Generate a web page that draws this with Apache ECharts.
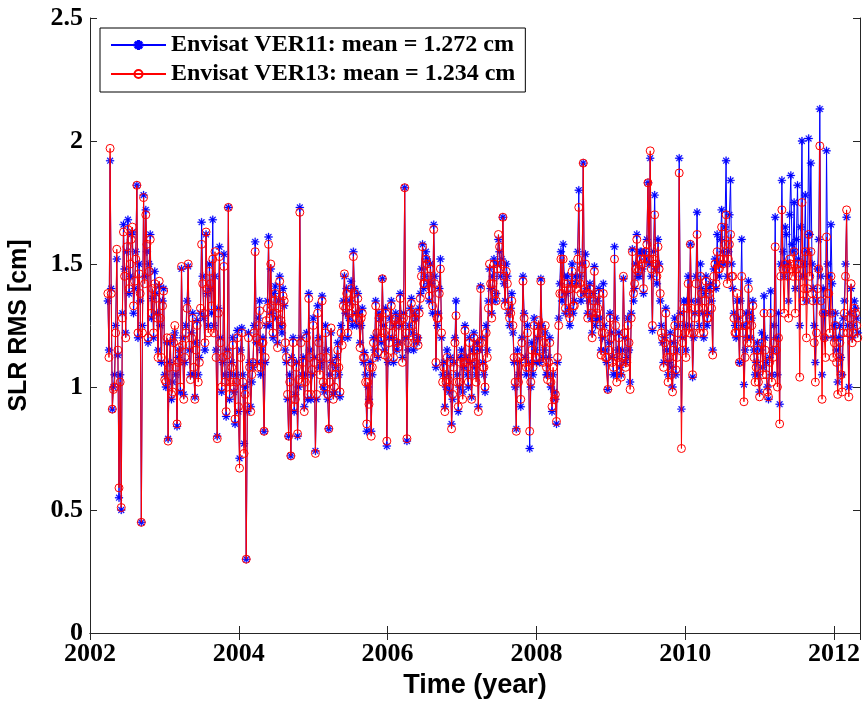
<!DOCTYPE html>
<html>
<head>
<meta charset="utf-8">
<script src="https://cdn.jsdelivr.net/npm/echarts@6/dist/echarts.min.js"></script>
<style>
html,body{margin:0;padding:0;background:#fff;}
#chart{width:863px;height:702px;}
</style>
</head>
<body>
<div id="chart"></div>
<script>
// main samples
const dates = [
2002.24,2002.27,2002.30,2002.33,2002.36,2002.39,2002.42,2002.45,2002.48,2002.51,
2002.54,2002.57,2002.60,2002.63,2002.66,2002.69,2002.72,2002.75,2002.78,2002.81,
2002.84,2002.87,2002.90,2002.93,2002.96,2002.99,2003.02,2003.05,2003.08,2003.11,
2003.14,2003.17,2003.20,2003.23,2003.26,2003.29,2003.32,2003.35,2003.38,2003.41,
2003.44,2003.47,2003.50,2003.53,2003.56,2003.59,2003.62,2003.65,2003.68,2003.71,
2003.74,2003.77,2003.80,2003.83,2003.86,2003.89,2003.92,2003.95,2003.98,2004.01,
2004.04,2004.07,2004.10,2004.13,2004.16,2004.19,2004.22,2004.25,2004.28,2004.31,
2004.34,2004.37,2004.40,2004.43,2004.46,2004.49,2004.52,2004.55,2004.58,2004.61,
2004.64,2004.67,2004.70,2004.73,2004.76,2004.79,2004.82,2004.85,2004.88,2004.91,
2004.94,2004.97,2005.00,2005.03,2005.06,2005.09,2005.12,2005.15,2005.18,2005.21,
2005.24,2005.27,2005.30,2005.33,2005.36,2005.39,2005.42,2005.45,2005.48,2005.51,
2005.54,2005.57,2005.60,2005.63,2005.66,2005.69,2005.72,2005.75,2005.78,2005.81,
2005.84,2005.87,2005.90,2005.93,2005.96,2005.99,2006.02,2006.05,2006.08,2006.11,
2006.14,2006.17,2006.20,2006.23,2006.26,2006.29,2006.32,2006.35,2006.38,2006.41,
2006.44,2006.47,2006.50,2006.53,2006.56,2006.59,2006.62,2006.65,2006.68,2006.71,
2006.74,2006.77,2006.80,2006.83,2006.86,2006.89,2006.92,2006.95,2006.98,2007.01,
2007.04,2007.07,2007.10,2007.13,2007.16,2007.19,2007.22,2007.25,2007.28,2007.31,
2007.34,2007.37,2007.40,2007.43,2007.46,2007.49,2007.52,2007.55,2007.58,2007.61,
2007.64,2007.67,2007.70,2007.73,2007.76,2007.79,2007.82,2007.85,2007.88,2007.91,
2007.94,2007.97,2008.00,2008.03,2008.06,2008.09,2008.12,2008.15,2008.18,2008.21,
2008.24,2008.27,2008.30,2008.33,2008.36,2008.39,2008.42,2008.45,2008.48,2008.51,
2008.54,2008.57,2008.60,2008.63,2008.66,2008.69,2008.72,2008.75,2008.78,2008.81,
2008.84,2008.87,2008.90,2008.93,2008.96,2008.99,2009.02,2009.05,2009.08,2009.11,
2009.14,2009.17,2009.20,2009.23,2009.26,2009.29,2009.32,2009.35,2009.38,2009.41,
2009.44,2009.47,2009.50,2009.53,2009.56,2009.59,2009.62,2009.65,2009.68,2009.71,
2009.74,2009.77,2009.80,2009.83,2009.86,2009.89,2009.92,2009.95,2009.98,2010.01,
2010.04,2010.07,2010.10,2010.13,2010.16,2010.19,2010.22,2010.25,2010.28,2010.31,
2010.34,2010.37,2010.40,2010.43,2010.46,2010.49,2010.52,2010.55,2010.58,2010.61,
2010.64,2010.67,2010.70,2010.73,2010.76,2010.79,2010.82,2010.85,2010.88,2010.91,
2010.94,2010.97,2011.00,2011.03,2011.06,2011.09,2011.12,2011.15,2011.18,2011.21,
2011.24,2011.27,2011.30,2011.33,2011.36,2011.39,2011.42,2011.45,2011.48,2011.51,
2011.54,2011.57,2011.60,2011.63,2011.66,2011.69,2011.72,2011.75,2011.78,2011.81,
2011.84,2011.87,2011.90,2011.93,2011.96,2011.99,2012.02,2012.05,2012.08,2012.11,
2012.14,2012.17,2012.20,2012.23,2012.26,2012.29,2012.32
];

const ver11 = [
1.35,1.92,0.91,1.05,1.52,0.55,0.50,1.66,1.22,1.68,
1.45,1.63,1.40,1.82,1.50,0.45,1.78,1.72,1.18,1.62,
1.36,1.47,1.30,1.41,1.10,1.40,1.00,0.79,1.18,1.02,
1.22,0.84,1.15,1.48,0.97,1.25,1.49,1.05,1.30,0.96,
1.27,1.12,1.67,1.28,1.62,1.25,1.40,1.68,1.45,0.80,
1.57,0.98,1.54,0.88,1.73,1.05,1.20,0.85,1.23,0.71,
1.24,0.77,0.30,1.22,0.92,1.08,1.59,1.10,1.35,1.15,
0.82,1.25,1.61,1.48,1.20,1.41,1.18,1.45,1.22,1.33,
1.10,0.80,0.72,1.20,0.97,0.80,1.73,1.05,0.92,1.22,
1.38,0.95,1.28,0.74,1.33,1.08,1.37,0.98,1.15,0.83,
1.22,0.97,1.08,1.18,0.96,1.20,1.45,1.40,1.28,1.43,
1.55,1.30,1.38,1.18,1.32,1.14,0.82,0.95,0.82,1.20,
1.35,1.12,1.28,1.44,1.15,0.76,1.20,1.35,1.10,1.30,
1.18,1.38,1.12,1.81,0.78,1.25,1.36,1.15,1.28,1.20,
1.38,1.58,1.45,1.52,1.35,1.42,1.66,1.08,1.30,1.52,
1.05,0.92,1.15,0.98,0.85,1.10,1.35,0.90,1.12,0.98,
1.25,1.05,1.20,0.96,1.22,1.05,0.92,1.41,1.10,0.98,
1.15,1.48,1.30,1.52,1.38,1.60,1.45,1.69,1.35,1.45,
1.25,1.38,1.10,0.83,1.05,0.92,1.45,1.12,1.25,0.75,
1.18,1.28,1.10,1.25,1.44,1.12,1.22,1.05,1.20,0.90,
0.98,0.85,1.28,1.55,1.58,1.30,1.45,1.25,1.50,1.35,
1.42,1.80,1.35,1.91,1.54,1.30,1.42,1.22,1.49,1.28,
1.40,1.15,1.42,1.15,0.99,1.30,1.12,1.57,1.05,1.22,
1.05,1.44,1.10,1.28,1.02,1.56,1.40,1.62,1.45,1.55,
1.38,1.52,1.83,1.93,1.23,1.78,1.42,1.50,1.25,1.10,
1.32,1.05,1.22,1.00,1.28,1.15,1.93,0.91,1.35,1.15,
1.45,1.58,1.04,1.30,1.71,1.25,1.40,1.20,1.45,1.30,
1.42,1.15,1.52,1.62,1.45,1.72,1.50,1.92,1.55,1.84,
1.40,1.25,1.35,1.10,1.60,1.01,1.30,1.43,1.20,1.35,
1.05,1.18,0.98,1.22,1.37,1.10,0.95,1.39,1.15,1.69,
1.05,0.93,1.84,1.45,1.62,1.35,1.86,1.55,1.40,1.82,
1.25,2.00,1.50,1.35,2.01,1.91,1.40,1.10,1.48,2.13,
1.05,1.30,1.96,1.45,1.66,1.20,1.30,1.02,1.25,1.05,
1.35,1.69,1.00,1.40,1.25,1.32,1.22
];

const ver13 = [
1.38,1.97,0.91,1.00,1.56,0.59,0.51,1.63,1.20,1.64,
1.50,1.65,1.43,1.82,1.46,0.45,1.77,1.70,1.20,1.60,
1.40,1.42,1.28,1.43,1.12,1.39,1.02,0.78,1.20,0.98,
1.25,0.85,1.16,1.49,0.95,1.22,1.50,1.03,1.28,0.95,
1.25,1.10,1.58,1.30,1.63,1.22,1.42,1.52,1.55,0.79,
1.53,1.00,1.49,0.90,1.73,1.02,1.17,0.87,1.20,0.67,
1.22,0.73,0.30,1.20,0.90,1.10,1.55,1.08,1.31,1.18,
0.82,1.27,1.58,1.50,1.22,1.38,1.16,1.43,1.25,1.35,
1.12,0.80,0.72,1.18,0.95,0.81,1.71,1.02,0.90,1.20,
1.36,0.97,1.25,0.73,1.30,1.05,1.35,1.00,1.12,0.83,
1.24,0.95,1.05,1.15,0.98,1.17,1.46,1.38,1.30,1.40,
1.53,1.32,1.36,1.16,1.30,1.12,0.85,0.93,0.80,1.18,
1.33,1.14,1.30,1.44,1.13,0.78,1.18,1.33,1.12,1.28,
1.16,1.36,1.10,1.81,0.79,1.22,1.34,1.18,1.30,1.17,
1.36,1.57,1.42,1.50,1.37,1.40,1.64,1.10,1.28,1.48,
1.02,0.90,1.12,1.00,0.83,1.08,1.29,0.92,1.10,0.95,
1.23,1.08,1.18,0.95,1.20,1.02,0.90,1.40,1.08,1.00,
1.12,1.50,1.28,1.50,1.35,1.62,1.48,1.69,1.33,1.42,
1.28,1.35,1.12,0.82,1.02,0.95,1.43,1.10,1.22,0.82,
1.15,1.25,1.12,1.27,1.43,1.10,1.25,1.03,1.18,0.92,
0.95,0.86,1.25,1.52,1.52,1.32,1.42,1.28,1.47,1.33,
1.40,1.73,1.38,1.91,1.50,1.28,1.40,1.20,1.47,1.30,
1.38,1.13,1.38,1.12,0.99,1.28,1.10,1.52,1.02,1.20,
1.04,1.45,1.08,1.25,0.99,1.55,1.42,1.60,1.48,1.52,
1.40,1.55,1.83,1.96,1.25,1.70,1.45,1.48,1.22,1.08,
1.30,1.02,1.20,0.98,1.25,1.12,1.87,0.75,1.32,1.12,
1.42,1.58,1.05,1.28,1.62,1.22,1.38,1.22,1.43,1.28,
1.40,1.13,1.50,1.55,1.48,1.65,1.52,1.70,1.52,1.62,
1.45,1.22,1.38,1.10,1.45,0.94,1.25,1.40,1.18,1.33,
1.02,1.15,0.96,1.18,1.30,1.05,0.96,1.30,1.12,1.57,
1.00,0.85,1.72,1.30,1.48,1.28,1.50,1.45,1.30,1.50,
1.04,1.75,1.40,1.20,1.62,1.55,1.35,1.02,1.40,1.98,
0.95,1.20,1.61,1.38,1.45,1.12,1.25,0.97,1.18,0.98,
1.30,1.72,0.96,1.42,1.22,1.30,1.20
];

// in-between samples
const datesB = [
2002.255,2002.285,2002.315,2002.345,2002.375,2002.405,2002.435,2002.465,2002.495,2002.525,
2002.555,2002.585,2002.615,2002.645,2002.675,2002.705,2002.735,2002.765,2002.795,2002.825,
2002.855,2002.885,2002.915,2002.945,2002.975,2003.005,2003.035,2003.065,2003.095,2003.125,
2003.155,2003.185,2003.215,2003.245,2003.275,2003.305,2003.335,2003.365,2003.395,2003.425,
2003.455,2003.485,2003.515,2003.545,2003.575,2003.605,2003.635,2003.665,2003.695,2003.725,
2003.755,2003.785,2003.815,2003.845,2003.875,2003.905,2003.935,2003.965,2003.995,2004.025,
2004.055,2004.085,2004.115,2004.145,2004.175,2004.205,2004.235,2004.265,2004.295,2004.325,
2004.355,2004.385,2004.415,2004.445,2004.475,2004.505,2004.535,2004.565,2004.595,2004.625,
2004.655,2004.685,2004.715,2004.745,2004.775,2004.805,2004.835,2004.865,2004.895,2004.925,
2004.955,2004.985,2005.015,2005.045,2005.075,2005.105,2005.135,2005.165,2005.195,2005.225,
2005.255,2005.285,2005.315,2005.345,2005.375,2005.405,2005.435,2005.465,2005.495,2005.525,
2005.555,2005.585,2005.615,2005.645,2005.675,2005.705,2005.735,2005.765,2005.795,2005.825,
2005.855,2005.885,2005.915,2005.945,2005.975,2006.005,2006.035,2006.065,2006.095,2006.125,
2006.155,2006.185,2006.215,2006.245,2006.275,2006.305,2006.335,2006.365,2006.395,2006.425,
2006.455,2006.485,2006.515,2006.545,2006.575,2006.605,2006.635,2006.665,2006.695,2006.725,
2006.755,2006.785,2006.815,2006.845,2006.875,2006.905,2006.935,2006.965,2006.995,2007.025,
2007.055,2007.085,2007.115,2007.145,2007.175,2007.205,2007.235,2007.265,2007.295,2007.325,
2007.355,2007.385,2007.415,2007.445,2007.475,2007.505,2007.535,2007.565,2007.595,2007.625,
2007.655,2007.685,2007.715,2007.745,2007.775,2007.805,2007.835,2007.865,2007.895,2007.925,
2007.955,2007.985,2008.015,2008.045,2008.075,2008.105,2008.135,2008.165,2008.195,2008.225,
2008.255,2008.285,2008.315,2008.345,2008.375,2008.405,2008.435,2008.465,2008.495,2008.525,
2008.555,2008.585,2008.615,2008.645,2008.675,2008.705,2008.735,2008.765,2008.795,2008.825,
2008.855,2008.885,2008.915,2008.945,2008.975,2009.005,2009.035,2009.065,2009.095,2009.125,
2009.155,2009.185,2009.215,2009.245,2009.275,2009.305,2009.335,2009.365,2009.395,2009.425,
2009.455,2009.485,2009.515,2009.545,2009.575,2009.605,2009.635,2009.665,2009.695,2009.725,
2009.755,2009.785,2009.815,2009.845,2009.875,2009.905,2009.935,2009.965,2009.995,2010.025,
2010.055,2010.085,2010.115,2010.145,2010.175,2010.205,2010.235,2010.265,2010.295,2010.325,
2010.355,2010.385,2010.415,2010.445,2010.475,2010.505,2010.535,2010.565,2010.595,2010.625,
2010.655,2010.685,2010.715,2010.745,2010.775,2010.805,2010.835,2010.865,2010.895,2010.925,
2010.955,2010.985,2011.015,2011.045,2011.075,2011.105,2011.135,2011.165,2011.195,2011.225,
2011.255,2011.285,2011.315,2011.345,2011.375,2011.405,2011.435,2011.465,2011.495,2011.525,
2011.555,2011.585,2011.615,2011.645,2011.675,2011.705,2011.735,2011.765,2011.795,2011.825,
2011.855,2011.885,2011.915,2011.945,2011.975,2012.005,2012.035,2012.065,2012.095,2012.125,
2012.155,2012.185,2012.215,2012.245,2012.275,2012.305
];

const ver11B = [
1.15,1.40,1.00,1.25,1.13,1.05,1.30,1.48,1.55,1.38,
1.62,1.30,1.55,1.20,1.35,1.25,1.45,1.55,1.50,1.28,
1.20,1.38,1.15,1.25,1.35,1.05,1.18,1.10,0.95,1.20,
1.05,1.12,0.98,1.20,1.10,1.35,1.15,1.22,1.05,1.18,
1.05,1.30,1.45,1.15,1.38,1.50,1.30,1.25,1.15,1.32,
1.20,1.10,1.05,1.15,0.95,1.10,0.98,1.05,0.90,1.15,
1.05,1.00,0.90,1.10,1.02,1.25,1.18,1.28,1.05,1.20,
1.10,1.35,1.25,1.30,1.38,1.28,1.35,1.25,1.40,1.15,
0.95,1.05,1.12,0.90,1.10,1.00,1.20,1.12,1.05,0.95,
1.15,1.05,1.12,0.95,1.20,1.10,1.00,1.25,0.95,1.05,
1.10,0.98,1.12,1.05,1.25,1.35,1.30,1.20,1.35,1.25,
1.40,1.25,1.30,1.25,1.10,1.05,1.00,1.10,1.05,1.15,
1.20,1.30,1.18,1.25,1.32,1.10,1.28,1.20,1.25,1.15,
1.28,1.25,1.30,1.20,1.15,1.32,1.22,1.30,1.18,1.32,
1.48,1.40,1.55,1.42,1.50,1.30,1.45,1.25,1.40,1.20,
1.10,1.00,1.05,1.12,0.95,1.20,1.05,1.00,1.15,1.08,
1.12,1.00,1.10,1.15,1.08,1.18,1.15,1.20,1.05,1.25,
1.35,1.40,1.45,1.35,1.50,1.55,1.52,1.42,1.50,1.30,
1.32,1.22,1.00,1.15,1.10,1.20,1.30,1.05,1.10,1.00,
1.05,1.15,1.20,1.10,1.25,1.15,1.05,1.12,1.00,1.05,
0.95,1.10,1.42,1.35,1.45,1.38,1.32,1.42,1.30,1.45,
1.55,1.45,1.50,1.38,1.40,1.35,1.28,1.38,1.25,1.35,
1.28,1.20,1.25,1.10,1.18,1.22,1.05,1.28,1.15,1.08,
1.15,1.20,1.12,1.15,1.30,1.35,1.50,1.45,1.55,1.48,
1.55,1.60,1.50,1.45,1.55,1.48,1.60,1.35,1.18,1.20,
1.15,1.10,1.08,1.18,1.05,1.25,1.30,1.20,1.25,1.35,
1.25,1.35,1.20,1.45,1.35,1.50,1.30,1.38,1.25,1.40,
1.35,1.48,1.40,1.50,1.60,1.55,1.65,1.45,1.70,1.50,
1.30,1.20,1.28,1.35,1.25,1.15,1.20,1.30,1.28,1.15,
1.10,1.05,1.15,1.08,1.20,1.00,1.12,1.05,1.25,1.20,
1.30,1.50,1.55,1.65,1.50,1.70,1.58,1.75,1.60,1.52,
1.65,1.45,1.78,1.55,1.62,1.50,1.25,1.35,1.60,1.45,
1.40,1.20,1.50,1.30,1.42,1.25,1.15,1.20,1.12,1.28,
1.50,1.25,1.30,1.20,1.35,1.28
];

const ver13B = [
1.12,1.38,0.99,1.22,1.15,1.02,1.28,1.45,1.57,1.40,
1.60,1.33,1.52,1.22,1.38,1.22,1.42,1.58,1.47,1.30,
1.22,1.36,1.12,1.28,1.33,1.03,1.20,1.08,0.97,1.18,
1.08,1.10,1.00,1.17,1.12,1.32,1.17,1.20,1.08,1.15,
1.02,1.32,1.42,1.18,1.40,1.47,1.33,1.22,1.12,1.30,
1.18,1.12,1.02,1.13,0.97,1.08,1.00,1.02,0.92,1.12,
1.02,0.97,0.92,1.08,1.05,1.22,1.20,1.25,1.08,1.18,
1.12,1.32,1.28,1.33,1.35,1.30,1.32,1.27,1.37,1.18,
0.97,1.02,1.10,0.92,1.08,1.03,1.18,1.10,1.02,0.97,
1.12,1.07,1.10,0.97,1.18,1.12,1.02,1.22,0.97,1.02,
1.08,1.00,1.10,1.08,1.22,1.33,1.32,1.22,1.33,1.28,
1.38,1.28,1.27,1.28,1.12,1.02,1.02,1.08,1.08,1.12,
1.22,1.28,1.20,1.22,1.30,1.12,1.25,1.22,1.27,1.18,
1.25,1.27,1.28,1.22,1.18,1.30,1.25,1.28,1.20,1.30,
1.45,1.42,1.52,1.45,1.48,1.33,1.42,1.28,1.38,1.22,
1.08,1.02,1.03,1.10,0.97,1.18,1.02,1.02,1.12,1.10,
1.10,1.02,1.12,1.12,1.10,1.15,1.18,1.18,1.08,1.22,
1.32,1.42,1.42,1.38,1.48,1.57,1.50,1.45,1.47,1.33,
1.30,1.25,1.02,1.12,1.12,1.18,1.28,1.08,1.08,1.02,
1.08,1.12,1.22,1.12,1.22,1.18,1.08,1.10,1.02,1.08,
0.97,1.12,1.38,1.38,1.42,1.40,1.30,1.40,1.33,1.42,
1.52,1.42,1.48,1.40,1.38,1.38,1.30,1.35,1.28,1.32,
1.25,1.22,1.22,1.12,1.15,1.20,1.08,1.25,1.12,1.10,
1.12,1.22,1.10,1.18,1.28,1.38,1.48,1.47,1.52,1.50,
1.52,1.58,1.52,1.48,1.52,1.50,1.57,1.38,1.20,1.18,
1.12,1.12,1.05,1.15,1.07,1.22,1.28,1.18,1.22,1.32,
1.22,1.32,1.22,1.42,1.32,1.45,1.32,1.35,1.28,1.38,
1.32,1.45,1.42,1.48,1.52,1.50,1.58,1.42,1.58,1.45,
1.28,1.22,1.25,1.30,1.22,1.12,1.18,1.28,1.25,1.12,
1.08,1.02,1.12,1.05,1.15,0.98,1.10,1.02,1.18,1.15,
1.20,1.45,1.48,1.50,1.45,1.52,1.48,1.55,1.48,1.45,
1.50,1.35,1.55,1.40,1.45,1.38,1.18,1.22,1.48,1.35,
1.30,1.12,1.38,1.22,1.30,1.18,1.10,1.12,1.05,1.22,
1.45,1.22,1.28,1.18,1.32,1.25
];

const seriesNames = ['Envisat VER11: mean = 1.272 cm', 'Envisat VER13: mean = 1.234 cm'];
const xTicks = [2002, 2004, 2006, 2008, 2010, 2012];
const yTicks = [0, 0.5, 1, 1.5, 2, 2.5];

function pairs(d, vals) {
  const n = Math.min(d.length, vals.length);
  const out = [];
  for (let i = 0; i < n; i++) out.push([d[i], vals[i]]);
  return out;
}
function merged(a, b) {
  return pairs(dates, a).concat(pairs(datesB, b)).sort((p, q) => p[0] - q[0]);
}

const STAR = 'path://M-1,-0.12L1,-0.12L1,0.12L-1,0.12Z M-0.12,-1L0.12,-1L0.12,1L-0.12,1Z M-0.785,-0.615L-0.615,-0.785L0.785,0.615L0.615,0.785Z M-0.615,0.785L-0.785,0.615L0.615,-0.785L0.785,-0.615Z';

const tickFont = { fontFamily: 'Liberation Serif', fontWeight: 'bold', fontSize: 26, color: '#000' };
const yTitleFont = { fontFamily: 'Liberation Sans', fontWeight: 'bold', fontSize: 25, color: '#000' };
const xTitleFont = { fontFamily: 'Liberation Sans', fontWeight: 'bold', fontSize: 27, color: '#000' };
const axisLine = { show: true, lineStyle: { color: '#262626', width: 1 } };
const tickStyle = { show: true, inside: true, length: 7, lineStyle: { color: '#262626' } };
const xMin = xTicks[0], xMax = 2012.35;
const yMin = yTicks[0], yMax = yTicks[yTicks.length - 1];

const chart = echarts.init(document.getElementById('chart'), null, { renderer: 'canvas' });
chart.setOption({
  animation: false,
  backgroundColor: '#fff',
  grid: { left: 90, right: 3, top: 18, bottom: 69, containLabel: false, outerBoundsMode: 'none' },
  legend: {
    left: 100, top: 28, orient: 'vertical',
    itemWidth: 55, itemHeight: 10, itemGap: 5,
    padding: [5, 10, 6, 10],
    borderColor: '#000', borderWidth: 1, backgroundColor: '#fff',
    textStyle: { fontFamily: 'Liberation Serif', fontWeight: 'bold', fontSize: 24, color: '#000' },
    data: seriesNames
  },
  xAxis: [{
    type: 'value', min: xMin, max: xMax, interval: 2,
    name: 'Time (year)', nameLocation: 'middle', nameGap: 39, nameTextStyle: xTitleFont,
    axisLine: axisLine, splitLine: { show: false }, axisTick: tickStyle,
    axisLabel: { ...tickFont, margin: 8, showMaxLabel: false,
      formatter: v => (xTicks.indexOf(Math.round(v * 100) / 100) >= 0 ? String(v) : '') }
  }, {
    type: 'value', position: 'top', min: xMin, max: xMax, interval: 2,
    axisLine: axisLine, splitLine: { show: false }, axisTick: tickStyle,
    axisLabel: { show: false }
  }],
  yAxis: [{
    type: 'value', min: yMin, max: yMax, interval: 0.5,
    name: 'SLR RMS [cm]', nameLocation: 'middle', nameGap: 58, nameTextStyle: yTitleFont,
    axisLine: axisLine, splitLine: { show: false }, axisTick: tickStyle,
    axisLabel: { ...tickFont, margin: 7, formatter: v => String(v) }
  }, {
    type: 'value', position: 'right', min: yMin, max: yMax, interval: 0.5,
    axisLine: axisLine, splitLine: { show: false }, axisTick: tickStyle,
    axisLabel: { show: false }
  }],
  series: [{
    name: seriesNames[0], type: 'line', xAxisIndex: 0, yAxisIndex: 0,
    data: merged(ver11, ver11B),
    showSymbol: true, showAllSymbol: true,
    symbol: STAR, symbolSize: 8,
    itemStyle: { color: '#0000ff', borderColor: '#0000ff', borderWidth: 0.3 },
    lineStyle: { color: '#0000ff', width: 1 },
    emphasis: { disabled: true }, silent: true, z: 2
  }, {
    name: seriesNames[1], type: 'line', xAxisIndex: 0, yAxisIndex: 0,
    data: merged(ver13, ver13B),
    showSymbol: true, showAllSymbol: true,
    symbol: 'circle', symbolSize: 8,
    itemStyle: { color: 'rgba(0,0,0,0)', borderColor: '#ff0000', borderWidth: 1 },
    lineStyle: { color: '#ff0000', width: 1 },
    emphasis: { disabled: true }, silent: true, z: 3
  }]
});
</script>
</body>
</html>
